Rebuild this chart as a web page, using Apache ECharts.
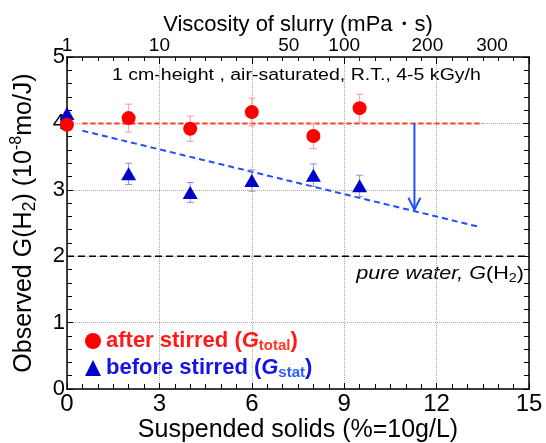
<!DOCTYPE html>
<html><head><meta charset="utf-8">
<script src="https://cdn.jsdelivr.net/npm/echarts@6/dist/echarts.min.js"></script>
<style>html,body{margin:0;padding:0;background:#fff}#c{width:546px;height:443px}</style>
</head><body><div id="c"></div>
<script>
// ---- data ----
const solids = [0, 2, 4, 6, 8, 9.5];
const gTotal = [3.98, 4.08, 3.92, 4.17, 3.81, 4.23];
const gTotalErr = [0, 0.21, 0.19, 0.21, 0.19, 0.21];
const gStat = [4.15, 3.24, 2.96, 3.14, 3.22, 3.06];
const gStatErr = [0, 0.16, 0.15, 0.16, 0.17, 0.16];
const totalFitX = [0.5, 13.5];
const totalFitY = [4.0, 4.0];
const statFitX = [0.5, 13.4];
const statFitY = [3.89, 2.44];
const pureWaterX = [0, 15];
const pureWaterY = [2, 2];
const arrowX = 11.28;
const arrowFromY = 4.0;
const arrowToY = 2.70;
const xTicks = [0, 3, 6, 9, 12, 15];
const viscosityPos = [0, 3, 7.2, 9, 11.7, 13.8];
const viscosityLabels = ['1', '10', '50', '100', '200', '300'];

const FONT = "'Liberation Sans', Arial, sans-serif";
const zip = (a, b) => a.map((v, i) => [v, b[i]]);

const chart = echarts.init(document.getElementById('c'));

function errItem(color) {
  return function (params, api) {
    const x = api.value(0), y = api.value(1), e = api.value(2);
    if (!e) return null;
    const t = api.coord([x, y + e]), b = api.coord([x, y - e]);
    const w = 3.5;
    const st = { stroke: color, lineWidth: 1 };
    return { type: 'group', children: [
      { type: 'line', shape: { x1: t[0], y1: t[1], x2: b[0], y2: b[1] }, style: st },
      { type: 'line', shape: { x1: t[0] - w, y1: t[1], x2: t[0] + w, y2: t[1] }, style: st },
      { type: 'line', shape: { x1: b[0] - w, y1: b[1], x2: b[0] + w, y2: b[1] }, style: st }
    ]};
  };
}

const axisTextBase = { fontFamily: FONT, color: '#000' };

const option = {
  animation: false,
  backgroundColor: '#fff',
  grid: { left: 67, right: 17, top: 57, bottom: 54, containLabel: false, outerBoundsMode: 'none' },
  xAxis: [
    {
      type: 'value', position: 'bottom', min: 0, max: 15, interval: 3,
      name: 'Suspended solids (%=10g/L)', nameLocation: 'middle', nameGap: 29, nameMoveOverlap: false,
      nameTextStyle: Object.assign({ fontSize: 25 }, axisTextBase),
      axisLine: { show: true, onZero: false, lineStyle: { color: '#000', width: 1.5 } },
      axisTick: { show: true, inside: true, length: 6, lineStyle: { color: '#000' } },
      minorTick: { show: true, splitNumber: 6, length: 5, lineStyle: { color: '#000' } },
      axisLabel: Object.assign({ fontSize: 24, margin: 3 }, axisTextBase),
      splitLine: { show: true, lineStyle: { color: '#aaa', type: 'dotted', width: 1 } }
    },
    {
      type: 'value', position: 'top', min: 0, max: 15, interval: 3,
      name: 'Viscosity of slurry (mPa・s)', nameLocation: 'middle', nameGap: 21, nameMoveOverlap: false,
      nameTextStyle: Object.assign({ fontSize: 22 }, axisTextBase),
      axisLine: { show: true, onZero: false, lineStyle: { color: '#000', width: 1.5 } },
      axisTick: { show: true, inside: true, length: 7, customValues: xTicks, lineStyle: { color: '#000' } },
      minorTick: { show: true, splitNumber: 6, length: 4, lineStyle: { color: '#000' } },
      axisLabel: Object.assign({
        fontSize: 19, margin: 2, customValues: viscosityPos,
        formatter: function (v) {
          const i = viscosityPos.findIndex(p => Math.abs(p - v) < 1e-6);
          return i >= 0 ? viscosityLabels[i] : '';
        }
      }, axisTextBase),
      splitLine: { show: false }
    }
  ],
  yAxis: [
    {
      type: 'value', position: 'left', min: 0, max: 5, interval: 1,
      name: '{t|Observed G(H}{sub|2}{t|) (10}{sup|-8}{t|mo/J)}',
      nameLocation: 'middle', nameGap: 28, nameRotate: 90,
      nameTextStyle: {
        rich: {
          t: { fontSize: 25, fontFamily: FONT, color: '#000', lineHeight: 30 },
          sub: { fontSize: 18, fontFamily: FONT, color: '#000', verticalAlign: 'bottom', lineHeight: 30, padding: [9, 0, 0, 0] },
          sup: { fontSize: 16, fontFamily: FONT, color: '#000', verticalAlign: 'top', lineHeight: 30, padding: [0, 0, 9, 0] }
        }
      },
      axisLine: { show: true, onZero: false, lineStyle: { color: '#000', width: 1.5 } },
      axisTick: { show: true, inside: true, length: 6, lineStyle: { color: '#000' } },
      minorTick: { show: true, splitNumber: 5, length: 5, lineStyle: { color: '#000' } },
      axisLabel: Object.assign({ fontSize: 22, margin: 2 }, axisTextBase),
      splitLine: { show: true, lineStyle: { color: '#aaa', type: 'dotted', width: 1 } }
    },
    {
      type: 'value', position: 'right', min: 0, max: 5, interval: 1,
      axisLine: { show: true, onZero: false, lineStyle: { color: '#000', width: 1.5 } },
      axisTick: { show: true, inside: true, length: 6, lineStyle: { color: '#000' } },
      minorTick: { show: true, splitNumber: 5, length: 5, lineStyle: { color: '#000' } },
      axisLabel: { show: false },
      splitLine: { show: false }
    }
  ],
  legend: {
    orient: 'vertical', left: 80, top: 324, itemGap: 3, itemWidth: 16, itemHeight: 16,
    selectedMode: false,
    data: [{ name: 'after stirred', icon: 'circle' }, { name: 'before stirred', icon: 'triangle' }],
    formatter: function (name) {
      if (name === 'after stirred') return '{r|after stirred (}{rg|G}{rs|total}{r|)}';
      return '{b|before stirred (}{bg|G}{bs|stat}{b|)}';
    },
    textStyle: {
      rich: {
        r: { fontSize: 22, fontWeight: 'bold', color: '#ff1a1a', fontFamily: FONT, lineHeight: 24 },
        rg: { fontSize: 22, fontWeight: 'bold', fontStyle: 'italic', color: '#ff1a1a', fontFamily: FONT, lineHeight: 24 },
        rs: { fontSize: 15, fontWeight: 'bold', color: '#ff3a1a', fontFamily: FONT, verticalAlign: 'bottom', lineHeight: 24, padding: [9, 0, 0, 0] },
        b: { fontSize: 22, fontWeight: 'bold', color: '#1414e6', fontFamily: FONT, lineHeight: 24 },
        bg: { fontSize: 22, fontWeight: 'bold', fontStyle: 'italic', color: '#1414e6', fontFamily: FONT, lineHeight: 24 },
        bs: { fontSize: 15, fontWeight: 'bold', color: '#2f5cff', fontFamily: FONT, verticalAlign: 'bottom', lineHeight: 24, padding: [9, 0, 0, 0] }
      }
    }
  },
  graphic: [
    {
      type: 'text', left: 112, top: 68, scaleX: 1.22,
      style: { text: '1 cm-height , air-saturated, R.T., 4-5 kGy/h', fontSize: 16, fontFamily: FONT, fill: '#000' }
    },
    {
      type: 'text', right: 22, top: 265, scaleX: 1.2, originX: 0,
      style: {
        text: '{i|pure water, }{g|G}{n|(H}{s|2}{n|)}',
        rich: {
          i: { fontSize: 18, fontStyle: 'italic', fontFamily: FONT, fill: '#000', lineHeight: 22 },
          g: { fontSize: 18, fontStyle: 'italic', fontFamily: FONT, fill: '#000', lineHeight: 22 },
          n: { fontSize: 18, fontFamily: FONT, fill: '#000', lineHeight: 22 },
          s: { fontSize: 12, fontFamily: FONT, fill: '#000', verticalAlign: 'bottom', lineHeight: 22, padding: [7, 0, 0, 0] }
        }
      }
    }
  ],
  series: [
    {
      name: 'pure water', type: 'line', data: zip(pureWaterX, pureWaterY), symbol: 'none',
      lineStyle: { color: '#000', width: 1.5, type: [7, 4] }, z: 3, silent: true
    },
    {
      name: 'total fit', type: 'line', data: zip(totalFitX, totalFitY), symbol: 'none',
      lineStyle: { color: '#ff3a1e', width: 2, type: [5, 3] }, z: 3, silent: true
    },
    {
      name: 'stat fit', type: 'line', data: zip(statFitX, statFitY), symbol: 'none',
      lineStyle: { color: '#1f4fff', width: 2, type: [6, 4] }, z: 3, silent: true
    },
    {
      name: 'arrow', type: 'custom', silent: true, z: 4,
      data: [[arrowX, arrowFromY, arrowToY]],
      renderItem: function (params, api) {
        const a = api.coord([api.value(0), api.value(1)]);
        const b = api.coord([api.value(0), api.value(2)]);
        const st = { stroke: '#1f4fff', lineWidth: 2, fill: null };
        return { type: 'group', children: [
          { type: 'line', shape: { x1: a[0], y1: a[1], x2: b[0], y2: b[1] }, style: st },
          { type: 'polyline', shape: { points: [[b[0] - 6, b[1] - 12], [b[0], b[1]], [b[0] + 6, b[1] - 12]] }, style: st }
        ]};
      }
    },
    {
      name: 'total err', type: 'custom', silent: true, z: 4,
      data: solids.map((x, i) => [x, gTotal[i], gTotalErr[i]]),
      renderItem: errItem('#ff9a9a')
    },
    {
      name: 'stat err', type: 'custom', silent: true, z: 4,
      data: solids.map((x, i) => [x, gStat[i], gStatErr[i]]),
      renderItem: errItem('#8f8fe8')
    },
    {
      name: 'after stirred', type: 'scatter', data: zip(solids, gTotal),
      symbol: 'circle', symbolSize: 14, itemStyle: { color: '#ff0000', opacity: 1 }, z: 6
    },
    {
      name: 'before stirred', type: 'scatter', data: zip(solids, gStat),
      symbol: 'triangle', symbolSize: [15, 13], itemStyle: { color: '#0000c8', opacity: 1 }, z: 5
    }
  ]
};
chart.setOption(option);
</script></body></html>
